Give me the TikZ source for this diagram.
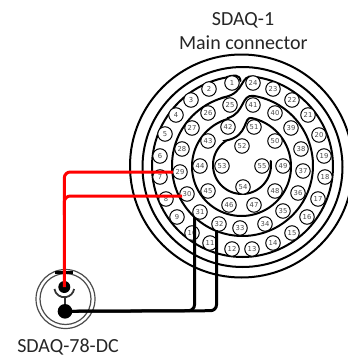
\documentclass[tikz,border=0pt]{standalone}
\usepackage{fontspec}
\setmainfont{Carlito}
\newfontfamily\pinfont{DejaVu Sans}
\tikzset{
 pin/.style={draw=black,line width=1pt,circle,fill=white,minimum size=14.5pt,inner sep=0pt,font=\pinfont\fontsize{6.8}{7}\selectfont,text=black!70},
 ring/.style={draw=black,line width=2pt},
 wirer/.style={draw=red,line width=3pt,rounded corners=6pt},
 wirek/.style={draw=black,line width=3pt,rounded corners=6pt},
 dcring/.style={draw=black!70,line width=1.2pt},
 lab/.style={font=\fontsize{20}{22}\selectfont,text=black!85,inner sep=0pt}
}
\begin{document}
\begin{tikzpicture}[x=1pt,y=-1pt]
\useasboundingbox (0,0) rectangle (348,359);
\clip (0,0) rectangle (348,359);
\draw[ring] (241.5,166) circle (111.5);
\draw[ring] (242.5,167) circle (100);
% spiral
\draw[ring,line cap=round] (240.5,81) .. controls (240,74) and (233,75) .. (227,77)
 -- plot[domain=-100:-443,samples=120] ({242.5+90.5*cos(\x)},{166.5+90.5*sin(\x)})
 .. controls (240,74) and (245,93) .. (225,97)
 -- plot[domain=-104:-441,samples=120] ({242.5+70.5*cos(\x)},{165.5+70.5*sin(\x)})
 .. controls (241,94) and (245,113) .. (228,118)
 -- plot[domain=-105.5:-438,samples=120] ({241.5+49.5*cos(\x)},{166.5+49.5*sin(\x)})
 .. controls (243,116) and (249,136) .. (226.6,140.4)
 -- plot[domain=-122:-368,samples=100] ({242+29*cos(\x)},{165+29*sin(\x)});
\foreach \n/\x/\y in {1/232/83,2/209/89,3/191/100,4/176/115,5/165/134,6/160/156,7/160/177,8/166/199,9/177/217,10/192/233,11/210/243,12/232/249,13/252/249,14/273/243,15/292/233,16/307/217,17/318/199,18/325/177,19/324/156,20/319/135,21/308/115,22/292/100,23/273/89,24/253/83,25/230/105,26/208/113,27/192/128,28/182/149,29/180/172,30/187/194,31/200/212,32/219/224,33/240/228,34/265/224,35/283/211,36/298/193,37/303/171,38/301/149,39/291/128,40/275/113,41/253/105,42/228/127,43/208/141,44/200/166,45/208/191,46/229/205,47/254/205,48/275/191,49/283/166,50/275/141,51/254/127,52/242/146,53/222/166,54/243/187,55/262/166}
 \node[pin] (p\n) at (\x,\y) {\n};
% DC connector
\draw[dcring] (65.5,299) circle (29.5);
\draw[dcring] (65.5,299) circle (25.5);
\draw[black,line width=3.5pt] (55,272.5) -- (73,272.5);
\draw[black!80,line width=1.8pt] (54.4,289) arc (170:10:10);
\draw[black!80,line width=1.8pt] (65,297) -- (65,305);
\node[fill=black,circle,minimum size=14.6pt,inner sep=0pt] (dcb) at (65,311.3) {};
\node[fill=black,circle,minimum size=12pt,inner sep=0pt] (dcr) at (64.3,287) {};
% wires
\coordinate (w1) at (64.3,172);
\coordinate (w2) at (64.3,196);
\coordinate (e1) at (173,172);
\coordinate (e2) at (182,196);
\coordinate (m1) at (64.3,215);
\draw[wirer] (dcr.center) -- (w1) -- (e1);
\draw[wirer] (m1) -- (w2) -- (e2);
\coordinate (k1) at (194.5,310.7);
\coordinate (k2) at (216.5,310.7);
\coordinate (f1) at (194.5,217);
\coordinate (f2) at (216.5,230);
\draw[wirek] (dcb.center) -- (k1) -- (f1);
\draw[wirek] (dcb.center) -- (k2) -- (f2);
\node[lab] (t1) at (243,20) {SDAQ-1};
\node[lab] (t2) at (243.3,43) {Main connector};
\node[lab] (t3) at (68,347) {SDAQ-78-DC};
\end{tikzpicture}
\end{document}
